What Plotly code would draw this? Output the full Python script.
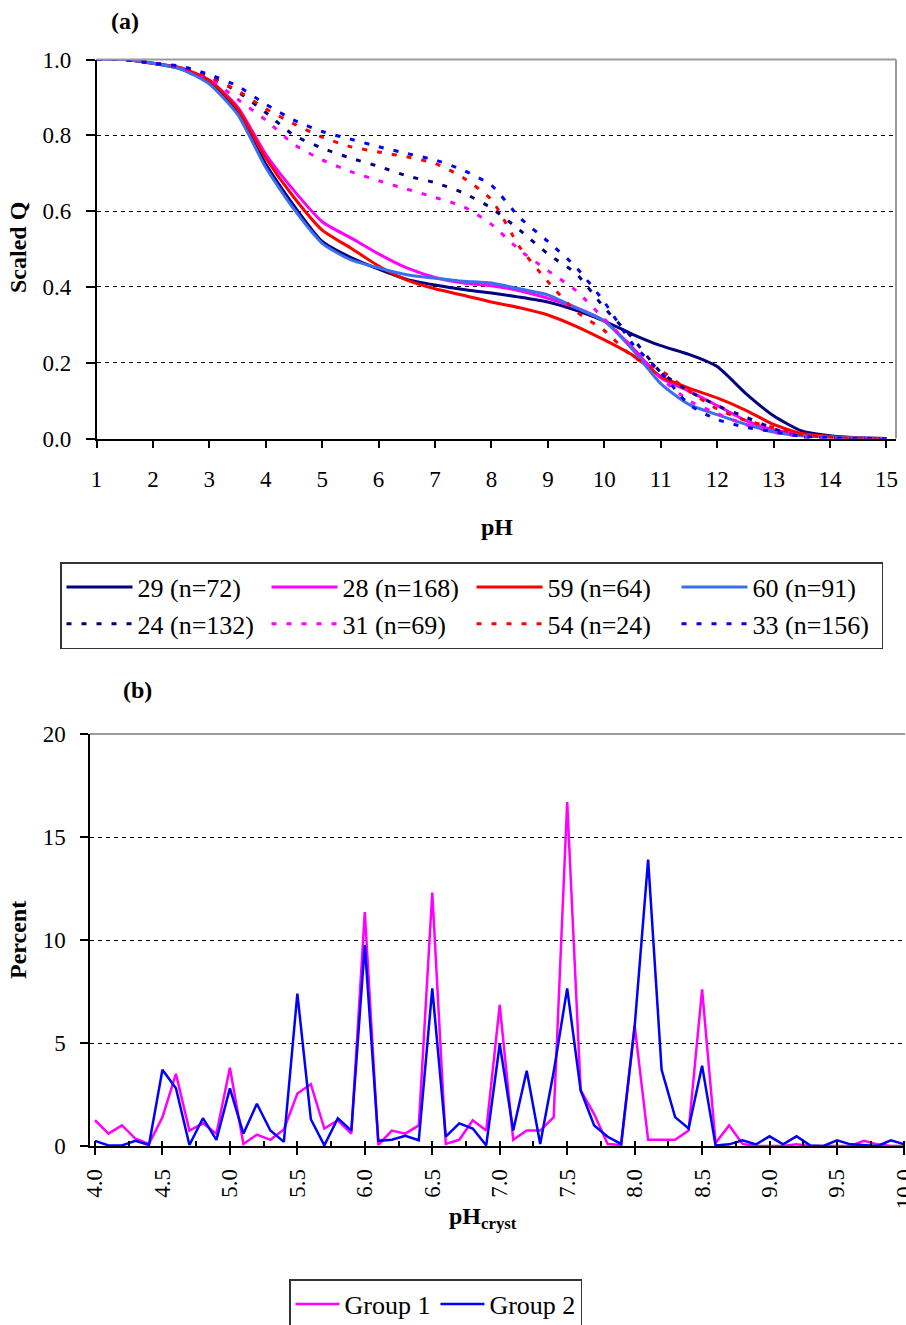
import plotly.graph_objects as go

# ---------------- panel (a): titration curves ----------------
ph_grid = [1.0, 1.5, 2.0, 2.5, 3.0, 3.5, 4.0, 4.5, 5.0, 5.5, 6.0, 6.5, 7.0, 7.5,
           8.0, 8.5, 9.0, 9.5, 10.0, 10.5, 11.0, 11.5, 12.0, 12.5, 13.0, 13.5,
           14.0, 14.5, 15.0]

q_29 = [1.0, 1.0, 0.99, 0.975, 0.94, 0.86, 0.724, 0.614, 0.52, 0.478, 0.447, 0.42,
        0.405, 0.393, 0.384, 0.373, 0.36, 0.338, 0.31, 0.275, 0.245, 0.222, 0.19,
        0.12, 0.06, 0.02, 0.007, 0.002, 0.0]
q_28 = [1.0, 1.0, 0.99, 0.978, 0.945, 0.875, 0.75, 0.654, 0.572, 0.53, 0.487, 0.45,
        0.425, 0.41, 0.403, 0.39, 0.37, 0.345, 0.31, 0.24, 0.16, 0.125, 0.087,
        0.048, 0.023, 0.01, 0.004, 0.001, 0.0]
q_59 = [1.0, 1.0, 0.99, 0.978, 0.945, 0.87, 0.74, 0.636, 0.55, 0.503, 0.455, 0.418,
        0.395, 0.378, 0.36, 0.345, 0.326, 0.296, 0.26, 0.22, 0.164, 0.133, 0.107,
        0.075, 0.037, 0.013, 0.005, 0.001, 0.0]
q_60 = [1.0, 1.0, 0.99, 0.975, 0.935, 0.855, 0.715, 0.605, 0.515, 0.472, 0.45, 0.432,
        0.423, 0.415, 0.41, 0.395, 0.379, 0.345, 0.31, 0.235, 0.145, 0.09, 0.063,
        0.038, 0.017, 0.007, 0.003, 0.001, 0.0]
q_24 = [1.0, 1.0, 0.99, 0.978, 0.955, 0.915, 0.86, 0.8, 0.766, 0.74, 0.718, 0.693,
        0.675, 0.648, 0.608, 0.55, 0.487, 0.435, 0.345, 0.265, 0.175, 0.125, 0.087,
        0.057, 0.026, 0.004, 0.001, 0.0, 0.0]
q_31 = [1.0, 1.0, 0.99, 0.978, 0.95, 0.895, 0.84, 0.776, 0.735, 0.705, 0.68, 0.658,
        0.636, 0.612, 0.565, 0.497, 0.443, 0.39, 0.315, 0.24, 0.16, 0.1, 0.066,
        0.037, 0.017, 0.005, 0.001, 0.0, 0.0]
q_54 = [1.0, 1.0, 0.99, 0.98, 0.955, 0.918, 0.87, 0.83, 0.795, 0.77, 0.756, 0.743,
        0.726, 0.688, 0.63, 0.505, 0.414, 0.335, 0.285, 0.216, 0.18, 0.125, 0.078,
        0.048, 0.029, 0.01, 0.003, 0.0, 0.0]
q_33 = [1.0, 1.0, 0.99, 0.982, 0.96, 0.93, 0.882, 0.84, 0.81, 0.79, 0.77, 0.752,
        0.735, 0.708, 0.668, 0.583, 0.52, 0.452, 0.36, 0.25, 0.175, 0.09, 0.05,
        0.03, 0.018, 0.006, 0.002, 0.0, 0.0]

series_names = ["29 (n=72)", "28 (n=168)", "59 (n=64)", "60 (n=91)",
                "24 (n=132)", "31 (n=69)", "54 (n=24)", "33 (n=156)"]
series_values = [q_29, q_28, q_59, q_60, q_24, q_31, q_54, q_33]
series_colors = ["#000080", "#FF00FF", "#FF0000", "#3C6EF0",
                 "#000080", "#FF00FF", "#FF0000", "#0000FF"]
series_dotted = [False, False, False, False, True, True, True, True]

y_ticks_a = [0.0, 0.2, 0.4, 0.6, 0.8, 1.0]
x_ticks_a = list(range(1, 16))

# ---------------- panel (b): crystallisation pH distribution ----------------
ph_cryst = [round(4.0 + 0.1 * i, 1) for i in range(61)]

group_1 = [1.25, 0.6, 1.0, 0.35, 0.1, 1.4, 3.5, 0.75, 1.1, 0.6,
           3.8, 0.1, 0.55, 0.3, 0.8, 2.55, 3.0, 0.85, 1.25, 0.6,
           11.35, 0.05, 0.75, 0.6, 1.0, 12.3, 0.1, 0.3, 1.25, 0.75,
           6.85, 0.3, 0.75, 0.75, 1.4, 16.7, 2.7, 1.55, 0.1, 0.05,
           5.85, 0.3, 0.3, 0.3, 0.75, 7.6, 0.15, 1.0, 0.1, 0.0,
           0.0, 0.0, 0.08, 0.0, 0.0, 0.0, 0.0, 0.25, 0.08, 0.0,
           0.0]
group_2 = [0.25, 0.03, 0.03, 0.25, 0.05, 3.7, 2.8, 0.05, 1.35, 0.3,
           2.8, 0.6, 2.05, 0.75, 0.2, 7.4, 1.3, 0.03, 1.35, 0.75,
           9.75, 0.25, 0.3, 0.5, 0.28, 7.65, 0.45, 1.1, 0.85, 0.03,
           4.95, 0.75, 3.65, 0.1, 3.6, 7.65, 2.7, 1.0, 0.45, 0.1,
           5.8, 13.9, 3.7, 1.4, 0.85, 3.9, 0.03, 0.08, 0.28, 0.08,
           0.47, 0.08, 0.47, 0.03, 0.0, 0.28, 0.08, 0.03, 0.0, 0.28,
           0.08]

y_ticks_b = [0, 5, 10, 15, 20]
x_ticks_b = [round(4.0 + 0.5 * i, 1) for i in range(13)]

# ---------------- page geometry (pixels) ----------------
W, H = 906, 1325


def px(x):
    return x / W


def py(y):
    return 1 - y / H


SERIF = "Liberation Serif, Times New Roman, serif"
TICK_FONT = dict(family=SERIF, size=23, color="#000000")
LEGEND_FONT = dict(family=SERIF, size=26, color="#000000")

fig = go.Figure()

for name, vals, col, dotted in zip(series_names, series_values, series_colors, series_dotted):
    fig.add_trace(go.Scatter(
        x=ph_grid, y=vals, name=name, mode="lines",
        line=dict(color=col, width=3,
                  dash="5px,10px" if dotted else "solid", shape="spline", smoothing=0.6),
        xaxis="x", yaxis="y", legend="legend",
    ))

fig.add_trace(go.Scatter(
    x=ph_cryst, y=group_1, name="Group 1", mode="lines",
    line=dict(color="#FF00FF", width=2.5), xaxis="x2", yaxis="y2", legend="legend2",
))
fig.add_trace(go.Scatter(
    x=ph_cryst, y=group_2, name="Group 2", mode="lines",
    line=dict(color="#0000FF", width=2.5), xaxis="x2", yaxis="y2", legend="legend2",
))

axis_common = dict(showline=True, linecolor="#000000", linewidth=1.5, zeroline=False,
                   tickfont=TICK_FONT, tickcolor="#000000", tickwidth=1.5)

fig.update_layout(
    width=W, height=H, autosize=False,
    margin=dict(l=0, r=0, t=0, b=0, autoexpand=False),
    paper_bgcolor="white", plot_bgcolor="white",
    font=dict(family=SERIF, color="#000000"),
    xaxis=dict(domain=[px(96.5), px(896)], range=[1, 15.17], anchor="y",
               tickvals=x_ticks_a, ticks="outside", ticklen=8, showgrid=False,
               ticklabelstandoff=11, **axis_common),
    # inner half of the crossing tick marks on the pH axis
    xaxis3=dict(domain=[px(96.5), px(896)], range=[1, 15.17], anchor="y",
                overlaying="x", tickvals=x_ticks_a, ticks="inside", ticklen=7,
                tickcolor="#000000", tickwidth=1.5, showticklabels=False,
                showline=False, showgrid=False, zeroline=False),
    yaxis=dict(domain=[py(438.5), py(59.5)], range=[0, 1], anchor="x",
               tickvals=y_ticks_a, tickformat=".1f", ticks="outside", ticklen=9,
               showgrid=True, gridcolor="#000000", gridwidth=1, griddash="4px,4px",
               ticklabelstandoff=10, **axis_common),
    xaxis2=dict(domain=[px(90), px(905)], range=[3.963, 10.004], anchor="y2",
                tickvals=x_ticks_b, tickformat=".1f", tickangle=-90,
                ticks="outside", ticklen=7, showgrid=False, ticklabelstandoff=5,
                ticklabeloverflow="allow",
                minor=dict(dtick=0.25, tick0=4.0, ticks="inside", ticklen=5,
                           tickcolor="#000000", tickwidth=1.5),
                **axis_common),
    yaxis2=dict(domain=[py(1146), py(734)], range=[0, 20], anchor="x2",
                tickvals=y_ticks_b, ticks="outside", ticklen=8,
                showgrid=True, gridcolor="#000000", gridwidth=1, griddash="4px,4px",
                ticklabelstandoff=10, **axis_common),
    legend=dict(orientation="h", x=px(60), y=py(562), xanchor="left", yanchor="top",
                bgcolor="white", bordercolor="#333333", borderwidth=1.5,
                font=LEGEND_FONT, entrywidth=124, itemwidth=66, traceorder="normal"),
    legend2=dict(orientation="h", x=px(289), y=py(1279), xanchor="left", yanchor="top",
                 bgcolor="white", bordercolor="#333333", borderwidth=1.5,
                 font=LEGEND_FONT, itemwidth=44, traceorder="normal"),
    showlegend=True,
)

# grey plot-area frame on the open sides
fig.add_shape(type="line", xref="x domain", yref="y domain", x0=0, x1=1, y0=1, y1=1,
              line=dict(color="#9a9a9a", width=2), layer="above")
fig.add_shape(type="line", xref="x domain", yref="y domain", x0=1, x1=1, y0=0, y1=1,
              line=dict(color="#9a9a9a", width=2), layer="above")
fig.add_shape(type="line", xref="x2 domain", yref="y2 domain", x0=0, x1=1, y0=1, y1=1,
              line=dict(color="#9a9a9a", width=2), layer="above")

TITLE_FONT = dict(family=SERIF, size=24, color="#000000")
labels = [
    dict(text="<b>(a)</b>", x=px(125), y=py(21)),
    dict(text="<b>(b)</b>", x=px(137), y=py(690)),
    dict(text="<b>pH</b>", x=px(497), y=py(527)),
    dict(text="<b>pH<sub>cryst</sub></b>", x=px(483), y=py(1218)),
    dict(text="<b>Scaled Q</b>", x=px(18), y=py(248), textangle=-90),
    dict(text="<b>Percent</b>", x=px(18), y=py(940), textangle=-90),
]
for lab in labels:
    fig.add_annotation(xref="paper", yref="paper", showarrow=False,
                       xanchor="center", yanchor="middle", font=TITLE_FONT, **lab)

fig.write_html("out.html")
